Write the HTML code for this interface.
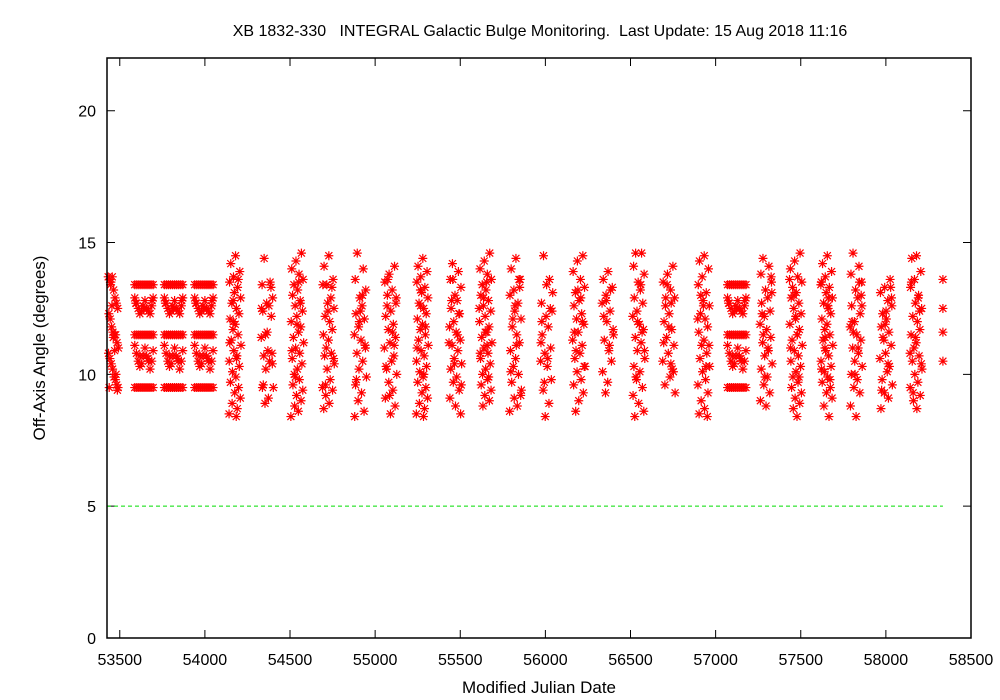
<!DOCTYPE html>
<html><head><meta charset="utf-8"><style>
body{margin:0;background:#fff}
svg{display:block;font-family:"Liberation Sans",sans-serif}
</style></head><body>
<svg id="chart" width="1000" height="700" viewBox="0 0 1000 700" xmlns="http://www.w3.org/2000/svg">
<text x="540" y="36" font-size="16" text-anchor="middle" style="white-space:pre">XB 1832-330   INTEGRAL Galactic Bulge Monitoring.  Last Update: 15 Aug 2018 11:16</text>
<text x="539" y="693" font-size="17" text-anchor="middle">Modified Julian Date</text>
<text transform="translate(45,348) rotate(-90)" font-size="17" text-anchor="middle">Off-Axis Angle (degrees)</text>
<g id="grid"></g>
<g id="marks"></g>
<rect x="107" y="58" width="864" height="580" fill="none" stroke="#000" stroke-width="1.5"/>
</svg>
<script>
const xTicks=[53500,54000,54500,55000,55500,56000,56500,57000,57500,58000,58500];
const yTicks=[0,5,10,15,20];
const refLine=[5,53425,58335];
const clusterStart=[53432,53588,53762,53940,54140,54328,54505,54688,54875,55052,55240,55434,55611,55787,55969,56158,56328,56510,56687,56893,57070,57258,57434,57616,57787,57963,58140,58335];
const P1=[40,12,65,28,5,52,33,70,18,45,60,8,38,25,55,15,72,30,48,3,62,22,42,10,58,35,68,20,50,2,44,27,6,46,26,56];
const P2=[20,55,8,70,35,48,12,62,28,3,42,66,18,52,30,74,10,45,25,60,5,38,68,15,50,32,72,22,58,0,40,64,46,26,6,56];
const P3=[62,30,5,48,72,18,40,10,55,25,68,35,2,58,45,15,75,28,52,8,65,38,20,50,12,70,33,60,22,44,0,36,6,56,26,46];
const gridOff=[0,12,24,36,48,60,72,84,96,108,0,10,20,30,40,50,60,70,80,90,100,108,0,12,24,36,48,60,72,84,96,108,0,10,20,30,40,50,60,70,80,90,100,108,0,12,24,36,48,60,72,84,96,108,6,30,54,78,102];
const gridAng=[13.4,13.4,13.4,13.4,13.4,13.4,13.4,13.4,13.4,13.4,12.9,12.7,12.5,12.3,12.4,12.6,12.8,12.5,12.4,12.3,12.6,12.9,11.5,11.5,11.5,11.5,11.5,11.5,11.5,11.5,11.5,11.5,11.1,10.8,10.5,10.3,10.4,10.7,11.0,10.7,10.5,10.2,10.5,10.9,9.5,9.5,9.5,9.5,9.5,9.5,9.5,9.5,9.5,9.5,12.7,10.7,12.5,10.6,12.8];
const firstOff=[0,8,16,24,32,40,48,56,4,12,20,28,36,44,52,60,2,10,18,26,34,42,50,58,6,14,22,30,38,46,54];
const firstAng=[13.7,13.6,13.5,13.7,13.2,12.9,12.7,12.5,12.3,12.1,11.8,11.6,11.5,11.5,11.2,11.0,10.8,10.6,10.4,10.2,9.9,9.8,9.6,9.5,9.5,13.4,12.6,11.4,10.9,10.0,9.4];
const clusterOffsets=[firstOff,gridOff,gridOff,gridOff,P1,P2,P3,P1,P2,P3,P1,P2,P3,P1,P2,P3,P1,P2,P3,P1,gridOff,P2,P3,P1,P2,P3,P1,[0,0,0,0]];
const clusterAngles=[
firstAng,
gridAng,gridAng,gridAng,
[14.5,14.2,13.9,13.7,13.5,13.3,13.1,12.9,12.7,12.5,12.3,12.1,11.9,11.7,11.5,11.3,11.1,10.9,10.7,10.5,10.3,10.1,9.9,9.7,9.5,9.3,9.1,8.9,8.7,8.5,8.4,12.0,11.2,10.6,12.8,13.6],
[14.4,13.5,13.4,12.9,12.7,12.6,12.4,12.2,11.5,11.4,10.9,10.8,10.7,10.5,10.2,9.5,9.5,9.1,8.9,13.3,12.5,11.6,10.4,9.6],
[14.6,14.3,14.0,13.8,13.6,13.4,13.2,13.0,12.8,12.6,12.4,12.2,12.0,11.8,11.6,11.4,11.2,11.0,10.8,10.6,10.4,10.2,10.0,9.8,9.6,9.4,9.2,9.0,8.8,8.6,8.4,11.9,10.9,12.7,9.9,13.5],
[14.5,14.1,13.6,13.4,13.4,12.9,12.7,12.5,12.2,12.0,11.7,11.5,11.3,11.0,10.8,10.7,10.4,10.2,9.8,9.5,9.4,9.2,8.9,8.7,13.3,12.4,10.6,9.6],
[14.6,14.0,13.6,13.2,12.9,12.6,12.3,12.1,11.8,11.5,11.3,11.1,10.8,10.5,10.2,9.9,9.6,9.3,9.0,8.6,8.4,12.4,11.0,9.8,13.0,12.0],
[14.1,13.8,13.5,13.2,12.9,12.6,12.4,12.2,11.9,11.7,11.4,11.2,11.0,10.7,10.5,10.2,10.0,9.7,9.4,9.1,8.8,8.5,13.0,11.6,10.3,12.7,9.2,11.1,13.6],
[14.4,14.1,13.9,13.7,13.5,13.3,13.1,12.9,12.7,12.5,12.3,12.1,11.9,11.7,11.5,11.3,11.1,10.9,10.7,10.5,10.3,10.1,9.9,9.7,9.5,9.3,9.1,8.9,8.7,8.5,8.4,12.6,11.0,10.0,13.2,11.8],
[14.2,13.9,13.6,13.3,13.0,12.8,12.5,12.3,12.0,11.8,11.6,11.3,11.1,10.9,10.6,10.4,10.2,9.9,9.7,9.4,9.1,8.8,8.5,12.8,11.5,10.4,9.6,13.6,12.3,11.2],
[14.6,14.3,14.0,13.8,13.6,13.4,13.2,13.0,12.8,12.6,12.4,12.2,12.0,11.8,11.6,11.4,11.2,11.0,10.8,10.6,10.4,10.2,10.0,9.8,9.6,9.4,9.2,9.0,8.8,13.5,12.5,11.6,10.8,9.9,12.9,11.1],
[14.4,14.0,13.6,13.2,13.0,12.7,12.4,12.1,11.8,11.5,11.2,10.9,10.6,10.3,10.0,9.7,9.4,9.1,8.8,8.6,13.3,12.1,11.1,10.1,13.6,12.6,9.2],
[14.5,13.6,12.7,12.4,12.2,11.8,11.5,11.0,10.8,10.5,10.3,9.8,9.4,8.9,8.4,13.1,12.0,10.6,9.7,12.5,11.2,13.4],
[14.5,14.3,13.9,13.6,13.3,13.1,12.8,12.6,12.3,12.1,11.9,11.6,11.3,11.1,10.8,10.6,10.3,10.1,9.8,9.6,9.3,9.0,8.6,12.9,11.6,10.3,13.2,12.0,10.9],
[13.9,13.6,13.3,13.0,12.7,12.4,12.0,11.7,11.3,10.9,10.5,10.1,9.7,9.3,13.2,12.2,11.5,12.8,11.1],
[14.6,14.6,14.1,13.8,13.5,13.2,12.9,12.7,12.4,12.2,11.9,11.7,11.4,11.2,10.9,10.6,10.3,10.1,9.8,9.5,9.2,8.9,8.6,8.4,13.4,12.0,10.9,9.9,11.6],
[14.1,13.8,13.5,13.2,12.9,12.6,12.3,12.0,11.7,11.4,11.1,10.8,10.5,10.2,9.9,9.6,9.3,13.4,12.7,11.2,10.1,11.8,12.9,10.4],
[14.5,14.3,14.0,13.7,13.4,13.1,12.8,12.6,12.3,12.1,11.8,11.6,11.3,11.1,10.8,10.6,10.3,10.1,9.8,9.6,9.3,9.0,8.7,8.5,8.4,12.6,11.1,13.0,10.3,12.1],
gridAng,
[14.4,14.1,13.8,13.5,13.2,12.9,12.7,12.4,12.2,11.9,11.7,11.4,11.2,10.9,10.7,10.4,10.2,9.9,9.6,9.3,9.0,8.8,13.7,12.3,11.0,9.9,13.1,11.5],
[14.6,14.3,14.0,13.7,13.5,13.3,13.1,12.9,12.7,12.5,12.3,12.1,11.9,11.7,11.5,11.3,11.1,10.9,10.7,10.5,10.3,10.1,9.9,9.7,9.5,9.3,9.1,8.9,8.7,8.4,13.6,12.2,11.0,9.9,13.0,11.5],
[14.5,14.2,13.9,13.7,13.5,13.3,13.1,12.9,12.7,12.5,12.3,12.1,11.9,11.7,11.5,11.3,11.1,10.9,10.7,10.5,10.3,10.1,9.9,9.7,9.5,9.3,9.1,8.8,8.4,13.4,12.6,11.4,10.2,12.9,11.0,9.8],
[14.6,14.1,13.8,13.5,13.2,12.9,12.6,12.3,12.0,11.8,11.5,11.3,11.0,10.8,10.5,10.3,10.0,9.8,9.5,9.3,8.8,8.4,13.0,12.0,11.0,10.0,12.6,11.6,13.5],
[13.6,13.3,13.1,12.8,12.6,12.3,12.1,11.8,11.6,11.3,11.1,10.8,10.6,10.3,10.1,9.8,9.6,9.3,9.1,8.7,13.3,12.4,11.4,10.4,9.4,12.9,11.9],
[14.5,14.4,13.9,13.6,13.3,13.0,12.7,12.5,12.2,12.0,11.7,11.5,11.2,11.0,10.7,10.5,10.2,10.0,9.7,9.5,9.2,9.0,8.7,13.5,12.4,11.4,10.4,9.3,12.9,10.8],
[13.6,12.5,11.6,10.5]
];
const X0=53425,X1=58500,PX0=107,PX1=971,Y0=0,Y1=22,PY0=638,PY1=58;
const xs=v=>PX0+(v-X0)*(PX1-PX0)/(X1-X0);
const ys=v=>PY0-(v-Y0)*(PY0-PY1)/(Y1-Y0);
const NS="http://www.w3.org/2000/svg";
const grid=document.getElementById('grid'),marks=document.getElementById('marks');
function mk(tag,attrs,parent){const e=document.createElementNS(NS,tag);for(const k in attrs)e.setAttribute(k,attrs[k]);parent.appendChild(e);return e;}
xTicks.forEach(t=>{
 const x=xs(t);
 const tk=mk('path',{d:`M${x} ${PY0}v-8M${x} ${PY1}v8`,stroke:'#000','stroke-width':1},grid);
 
 
 const lb=mk('text',{x:x,y:665,'font-size':16,'text-anchor':'middle'},grid);
 lb.textContent=t;
 
 
});
yTicks.forEach(t=>{
 const y=ys(t);
 const tk=mk('path',{d:`M${PX0} ${y}h8M${PX1} ${y}h-8`,stroke:'#000','stroke-width':1},grid);
 
 
 const lb=mk('text',{x:96,y:y+6,'font-size':16,'text-anchor':'end'},grid);
 lb.textContent=t;
 
 
});
const rl=mk('line',{x1:xs(refLine[1]),x2:xs(refLine[2]),y1:ys(refLine[0]),y2:ys(refLine[0]),stroke:'#00dd00','stroke-width':1,'stroke-dasharray':'4,3'},grid);


clusterStart.forEach((s,i)=>{
 clusterOffsets[i].forEach((o,j)=>{
  const a=clusterAngles[i][j]; if(a===undefined)return;
  const x=xs(s+o),y=ys(a);
  const p=mk('path',{d:`M${x-4.5} ${y}h9M${x} ${y-4.5}v9M${x-3.5} ${y-3.5}l7 7M${x-3.5} ${y+3.5}l7 -7`,stroke:'#ff0000','stroke-width':1.2,fill:'none'},marks);
  
  
 });
});
</script>
</body></html>
